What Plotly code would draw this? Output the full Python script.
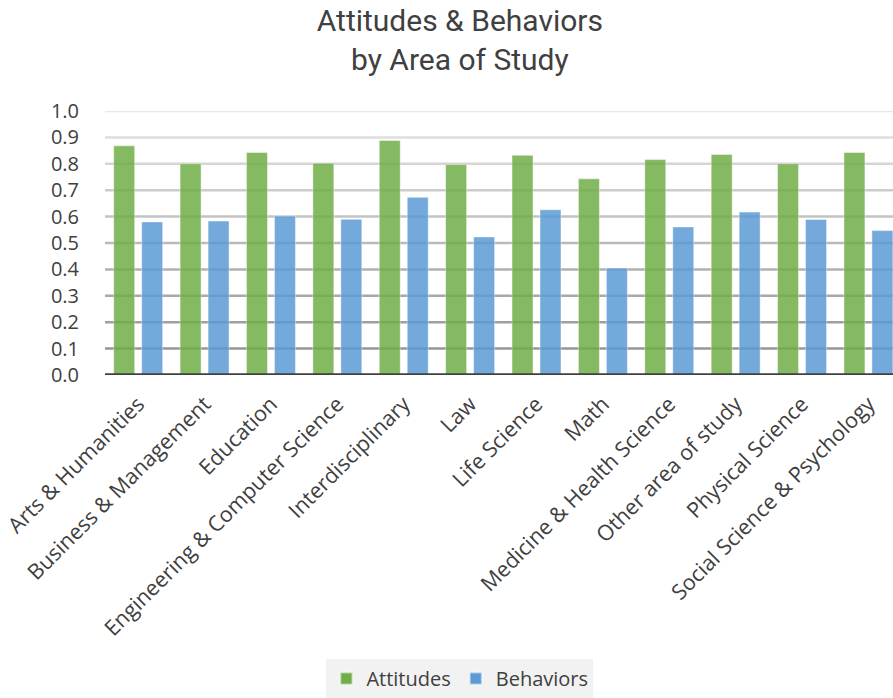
import plotly.graph_objects as go

categories = ["Arts & Humanities", "Business & Management", "Education",
              "Engineering & Computer Science", "Interdisciplinary", "Law",
              "Life Science", "Math", "Medicine & Health Science",
              "Other area of study", "Physical Science", "Social Science & Psychology"]
attitudes = [0.868, 0.800, 0.843, 0.802, 0.888, 0.797, 0.832, 0.743, 0.816, 0.835, 0.800, 0.843]
behaviors = [0.580, 0.583, 0.602, 0.590, 0.673, 0.523, 0.626, 0.405, 0.561, 0.617, 0.589, 0.547]
y_ticks = [0.0, 0.1, 0.2, 0.3, 0.4, 0.5, 0.6, 0.7, 0.8, 0.9, 1.0]

fig = go.Figure()
fig.add_trace(go.Bar(name="Attitudes", x=categories, y=attitudes,
                     marker=dict(color="#70AD47", opacity=0.85,
                                 line=dict(color="rgba(255,255,255,0.45)", width=1))))
fig.add_trace(go.Bar(name="Behaviors", x=categories, y=behaviors,
                     marker=dict(color="#5B9BD5", opacity=0.85,
                                 line=dict(color="rgba(255,255,255,0.45)", width=1))))

# gradient gridlines (darker toward the bottom)
shapes = []
n = len(y_ticks)
for i, v in enumerate(y_ticks[1:], start=1):
    t = (i - 1) / (n - 2)
    g = int(150 + t * (232 - 150))
    shapes.append(dict(type="line", xref="paper", x0=0, x1=1, yref="y", y0=v, y1=v,
                       line=dict(color=f"rgb({g},{g},{g})", width=2.5), layer="below"))
shapes.append(dict(type="line", xref="paper", x0=0, x1=1, yref="y", y0=0, y1=0,
                   line=dict(color="#404040", width=3.5), layer="above"))

fig.update_layout(
    width=893, height=698,
    margin=dict(l=105, r=0, t=111, b=323),
    paper_bgcolor="white", plot_bgcolor="white",
    barmode="group", bargap=0.157, bargroupgap=0.25,
    shapes=shapes,
    title=dict(text="Attitudes & Behaviors<br>by Area of Study",
               font=dict(family="Roboto", size=30, color="#404040"),
               x=0.515, xanchor="center", xref="container",
               y=0.955, yanchor="top", yref="container"),
    xaxis=dict(range=[-0.5, 11.37], tickangle=-45, showgrid=False, zeroline=False,
               showline=False, ticks="outside", ticklen=7, tickcolor="rgba(0,0,0,0)",
               tickfont=dict(family="Open Sans", size=21.5, color="#404040")),
    yaxis=dict(range=[0, 1.0], tickvals=y_ticks, tickformat=".1f", showgrid=False,
               zeroline=False, showline=False, ticks="outside", ticklen=21,
               tickcolor="rgba(0,0,0,0)",
               tickfont=dict(family="Open Sans", size=20, color="#404040")),
    legend=dict(orientation="h", xref="container", x=0.515, xanchor="center",
                yref="container", y=0, yanchor="bottom", bgcolor="#f2f2f2",
                font=dict(family="Open Sans", size=20, color="#404040"),
                itemsizing="constant"),
)

fig.write_html("out.html")
